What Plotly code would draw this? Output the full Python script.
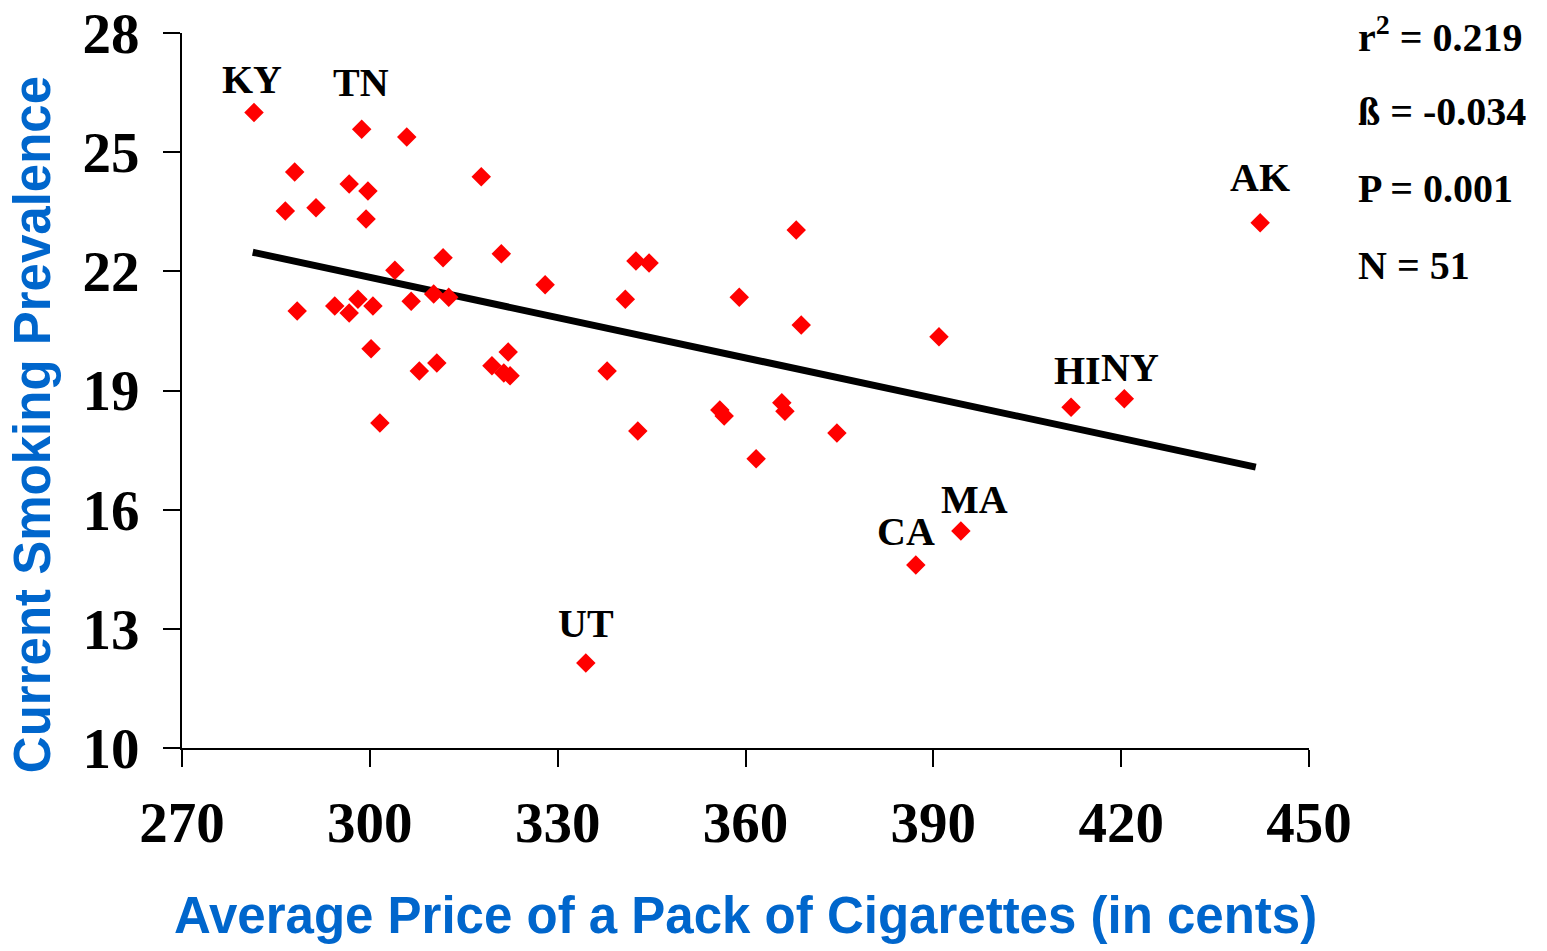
import plotly.graph_objects as go

# ---- data ----
price = [281.5, 288.0, 286.5, 291.4, 296.7, 299.7, 298.7, 305.9, 299.4, 317.8,
         304.0, 311.7, 321.0, 294.4, 288.4, 296.7, 298.1, 300.5, 306.6, 310.2,
         312.6, 300.2, 307.9, 310.7, 301.6, 319.5, 322.1, 321.4, 322.4, 328.0,
         340.8, 342.5, 344.6, 337.9, 342.8, 334.5, 359.0, 368.1, 368.9, 355.9,
         356.6, 365.8, 366.3, 361.7, 374.6, 390.9, 387.2, 394.4, 412.0, 420.5,
         442.2]
prevalence = [26.0, 24.5, 23.52, 23.6, 24.2, 24.02, 25.58, 25.38, 23.32, 24.38,
              22.03, 22.34, 22.44, 21.13, 21.0, 20.95, 21.30, 21.13, 21.25, 21.43,
              21.35, 20.05, 19.49, 19.69, 18.18, 19.62, 19.97, 19.44, 19.37, 21.66,
              21.30, 22.26, 22.21, 19.49, 17.98, 12.14, 21.35, 23.04, 20.65, 18.51,
              18.36, 18.69, 18.48, 17.28, 17.93, 20.35, 14.61, 15.46, 18.58, 18.79,
              23.22]
state_labels = {0: "KY", 6: "TN", 35: "UT", 46: "CA", 47: "MA", 48: "HI", 49: "NY", 50: "AK"}

trend_x = [281.3, 441.5]
trend_y = [22.48, 17.07]

x_ticks = [270, 300, 330, 360, 390, 420, 450]
y_ticks = [10, 13, 16, 19, 22, 25, 28]

x_title = "Average Price of a Pack of Cigarettes (in cents)"
y_title = "Current Smoking Prevalence"
stats = ["r<sup>2</sup> = 0.219", "ß = -0.034", "P = 0.001", "N = 51"]

# ---- styling ----
label_offsets = {"KY": (-2, 33), "TN": (-1, 47), "UT": (0, 39), "CA": (-10, 33),
                 "MA": (14, 32), "HI": (6, 37), "NY": (6, 31), "AK": (0, 45)}
serif = "Liberation Serif, Times New Roman, serif"
sans = "Liberation Sans, Arial, sans-serif"
blue = "#0066CC"

fig = go.Figure()
fig.add_trace(go.Scatter(x=trend_x, y=trend_y, mode="lines",
                         line=dict(color="black", width=7), hoverinfo="skip",
                         showlegend=False))
fig.add_trace(go.Scatter(x=price, y=prevalence, mode="markers",
                         marker=dict(symbol="diamond", color="#FF0000", size=15,
                                     line=dict(width=0)),
                         cliponaxis=False, showlegend=False))

for i, lab in state_labels.items():
    dx, dy = label_offsets[lab]
    fig.add_annotation(x=price[i], y=prevalence[i], text="<b>%s</b>" % lab,
                       showarrow=False, xshift=dx, yshift=dy,
                       font=dict(family=serif, size=40, color="black"))

for k, s in enumerate(stats):
    fig.add_annotation(xref="paper", yref="paper", x=1.042, y=0.998 - k * 0.1077,
                       xanchor="left", yanchor="middle", text="<b>%s</b>" % s,
                       showarrow=False,
                       font=dict(family=serif, size=40, color="black"))

fig.add_annotation(xref="paper", yref="paper", x=0.5, y=-0.2336,
                   xanchor="center", yanchor="middle", text="<b>%s</b>" % x_title,
                   showarrow=False, font=dict(family=sans, size=51, color=blue))
fig.add_annotation(xref="paper", yref="paper", x=-0.133, y=0.4517, textangle=-90,
                   xanchor="center", yanchor="middle", text="<b>%s</b>" % y_title,
                   showarrow=False, font=dict(family=sans, size=51, color=blue))

fig.update_layout(
    width=1539, height=943,
    margin=dict(l=174, r=238, t=25, b=203, autoexpand=False),
    paper_bgcolor="white", plot_bgcolor="white",
    showlegend=False,
)
fig.update_xaxes(
    range=[270, 450], tickvals=x_ticks, ticktext=[str(v) for v in x_ticks],
    showgrid=False, zeroline=False, showline=True, linecolor="black", linewidth=2,
    ticks="outside", ticklen=17, tickwidth=2, tickcolor="black",
    ticklabelstandoff=7, automargin=False, ticklabeloverflow="allow",
    tickfont=dict(family=serif, size=57, color="black", weight="bold"),
)
fig.update_yaxes(
    range=[10, 28], tickvals=y_ticks, ticktext=[str(v) for v in y_ticks],
    showgrid=False, zeroline=False, showline=True, linecolor="black", linewidth=2,
    ticks="outside", ticklen=17, tickwidth=2, tickcolor="black",
    ticklabelstandoff=12, automargin=False, ticklabeloverflow="allow",
    tickfont=dict(family=serif, size=57, color="black", weight="bold"),
)

fig.write_html("out.html")
